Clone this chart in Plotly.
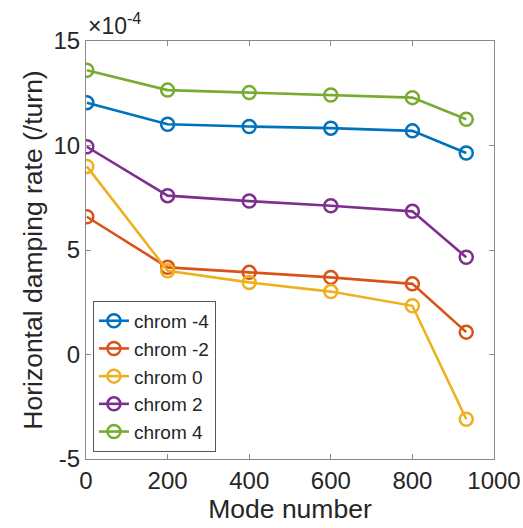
import plotly.graph_objects as go

modes = [2, 200, 400, 600, 800, 932]
series_names = ["chrom -4", "chrom -2", "chrom 0", "chrom 2", "chrom 4"]
chrom_m4 = [12.05e-4, 11.02e-4, 10.91e-4, 10.83e-4, 10.70e-4, 9.64e-4]
chrom_m2 = [6.59e-4, 4.17e-4, 3.93e-4, 3.69e-4, 3.38e-4, 1.07e-4]
chrom_0 = [9.00e-4, 4.01e-4, 3.45e-4, 3.01e-4, 2.33e-4, -3.10e-4]
chrom_2 = [9.94e-4, 7.60e-4, 7.34e-4, 7.12e-4, 6.85e-4, 4.65e-4]
chrom_4 = [13.60e-4, 12.65e-4, 12.53e-4, 12.42e-4, 12.29e-4, 11.26e-4]
y_tickvals = [-5e-4, 0, 5e-4, 10e-4, 15e-4]
y_ticktext = ["-5", "0", "5", "10", "15"]
x_tickvals = [0, 200, 400, 600, 800, 1000]

colors = ["#0072BD", "#D95319", "#EDB120", "#7E2F8E", "#77AC30"]
all_series = [chrom_m4, chrom_m2, chrom_0, chrom_2, chrom_4]

fig = go.Figure()
for name, ys, c in zip(series_names, all_series, colors):
    fig.add_trace(go.Scatter(
        x=modes, y=ys, name=name, mode="lines+markers",
        line=dict(color=c, width=2.6),
        marker=dict(symbol="circle-open", size=13, color=c, line=dict(width=2.5, color=c)),
    ))

font_family = "Liberation Sans, Arial, Helvetica, sans-serif"
axis_col = "#8a8a8a"
text_col = "#262626"

fig.update_layout(
    width=523, height=528,
    margin=dict(l=86, r=29, t=41, b=69, autoexpand=False),
    paper_bgcolor="white", plot_bgcolor="white",
    font=dict(family=font_family, color=text_col, size=22),
    showlegend=True,
    legend=dict(
        x=0.017, y=0.017, xanchor="left", yanchor="bottom",
        bgcolor="white", bordercolor="#555", borderwidth=1,
        font=dict(size=19, color=text_col),
        tracegroupgap=0, itemwidth=30,
    ),
    xaxis=dict(
        range=[0, 1000], tickvals=x_tickvals, automargin=False,
        showline=True, linecolor=axis_col, linewidth=1, mirror="ticks",
        ticks="inside", ticklen=5, tickcolor=axis_col,
        showgrid=False, zeroline=False,
        tickfont=dict(size=24, color=text_col),
        title=dict(text="Mode number", font=dict(size=26.5, color=text_col), standoff=4),
    ),
    yaxis=dict(
        range=[-5e-4, 15e-4], tickvals=y_tickvals, ticktext=y_ticktext, automargin=False,
        showline=True, linecolor=axis_col, linewidth=1, mirror="ticks",
        ticks="inside", ticklen=5, tickcolor=axis_col,
        showgrid=False, zeroline=False,
        tickfont=dict(size=24, color=text_col),
        title=dict(text="Horizontal damping rate (/turn)", font=dict(size=26.5, color=text_col), standoff=3),
    ),
    annotations=[dict(
        text="×10<sup>-4</sup>", xref="paper", yref="paper", x=0.0, y=1.0,
        xanchor="left", yanchor="bottom", showarrow=False,
        font=dict(size=23, color=text_col),
    )],
)

fig.write_html("out.html", config={"displayModeBar": False},
               post_script="document.body.style.margin='0';document.body.style.overflow='hidden';")
